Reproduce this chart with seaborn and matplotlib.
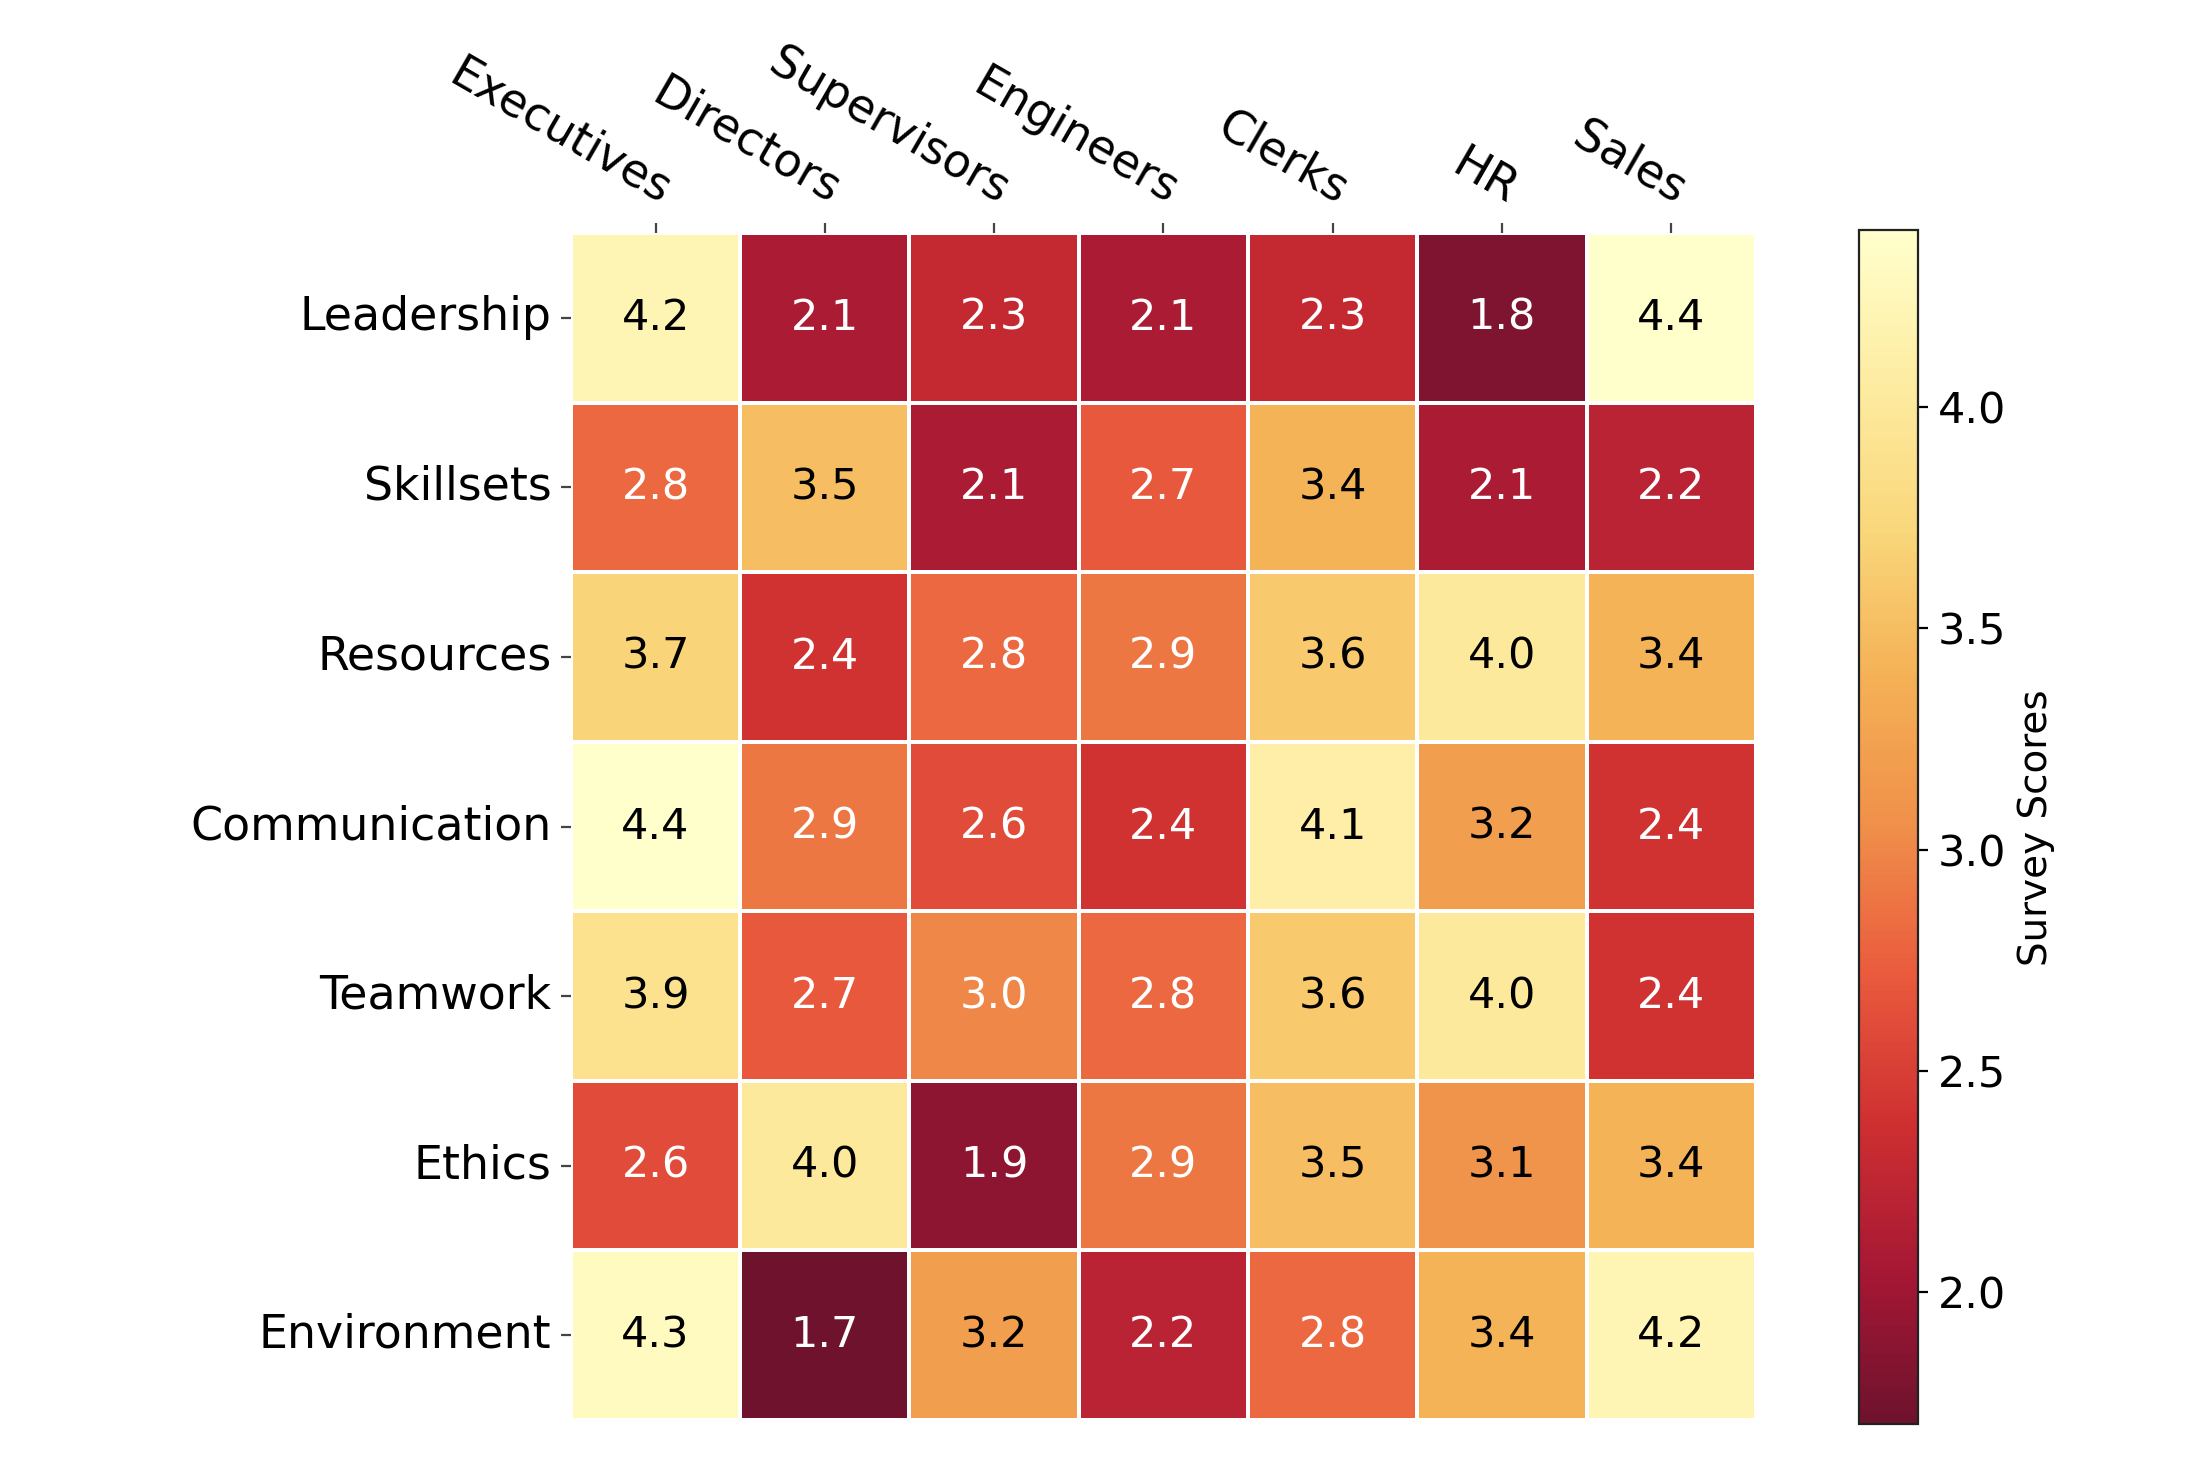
import numpy as np
import pandas as pd
import matplotlib
matplotlib.use("Agg")
import matplotlib.pyplot as plt
from matplotlib.colors import ListedColormap
import seaborn as sns

groups = ["Executives", "Directors", "Supervisors", "Engineers", "Clerks", "HR", "Sales"]
topics = ["Leadership", "Skillsets", "Resources", "Communication", "Teamwork", "Ethics", "Environment"]

leadership = [4.2, 2.1, 2.3, 2.1, 2.3, 1.8, 4.4]
skillsets = [2.8, 3.5, 2.1, 2.7, 3.4, 2.1, 2.2]
resources = [3.7, 2.4, 2.8, 2.9, 3.6, 4.0, 3.4]
communication = [4.4, 2.9, 2.6, 2.4, 4.1, 3.2, 2.4]
teamwork = [3.9, 2.7, 3.0, 2.8, 3.6, 4.0, 2.4]
ethics = [2.6, 4.0, 1.9, 2.9, 3.5, 3.1, 3.4]
environment = [4.3, 1.7, 3.2, 2.2, 2.8, 3.4, 4.2]

df = pd.DataFrame([leadership, skillsets, resources, communication, teamwork, ethics, environment],
                  index=topics, columns=groups)

plt.rcParams['font.family'] = ['DejaVu Sans']

# YlOrRd (reversed), reds slightly muted, yellows kept warm
pos = np.linspace(0, 1, 256)
base = plt.get_cmap("YlOrRd_r")(pos)
muted = [sns.desaturate(c[:3], 0.72 + 0.28 * p) for c, p in zip(base, pos)]
cmap = ListedColormap(muted)

fig = plt.figure(figsize=(11, 7.35), dpi=200)
ax = fig.add_axes([0.2595, 0.034, 0.5386, 0.8075])
cax = fig.add_axes([0.845, 0.031, 0.027, 0.8122])

sns.heatmap(df, ax=ax, cbar_ax=cax, cmap=cmap, annot=True, fmt=".1f",
            annot_kws={"size": 15.5}, linewidths=1.3, linecolor="white",
            cbar_kws={"label": "Survey Scores"})

vals = df.values
thr = (vals.min() + vals.max()) / 2.0
for t, v in zip(ax.texts, vals.flatten()):
    t.set_color("black" if v > thr else "white")

ax.xaxis.tick_top()
ax.xaxis.set_label_position("top")
ax.set_xlabel("")
ax.set_ylabel("")
ax.tick_params(axis="both", labelsize=16.5, length=3.5, width=0.8, color="#444444")
plt.setp(ax.get_xticklabels(), rotation=-30, ha="right", rotation_mode="anchor")
plt.setp(ax.get_yticklabels(), rotation=0)

cax.tick_params(labelsize=15.5, length=3.5, width=0.8)
cax.yaxis.label.set_size(14)
cbar = ax.collections[0].colorbar
cbar.outline.set_visible(True)
cbar.outline.set_linewidth(0.8)
cbar.outline.set_edgecolor("#222222")

fig.savefig("out.png", dpi=200)
